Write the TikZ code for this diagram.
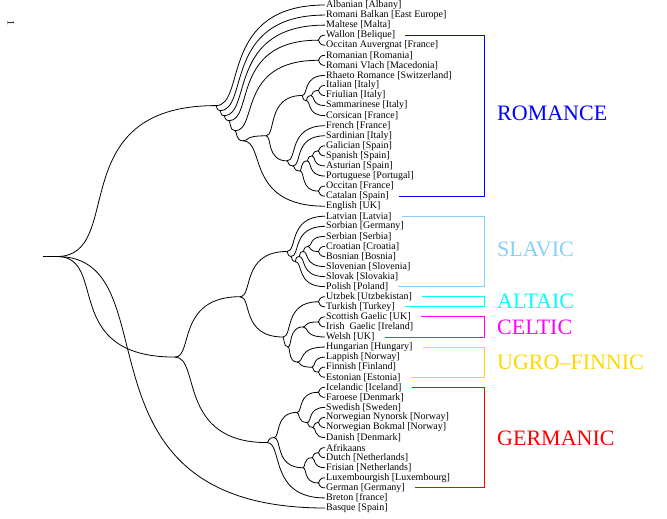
\documentclass[tikz,border=0pt]{standalone}
\usepackage{fontspec}
\setmainfont{Liberation Serif}
\usetikzlibrary{calc}
\definecolor{slavblue}{RGB}{135,206,250}
\definecolor{ugrogold}{RGB}{255,215,0}
\definecolor{altcyan}{RGB}{0,255,255}
\definecolor{celtmag}{RGB}{255,0,255}
\definecolor{rombl}{RGB}{0,0,255}
\definecolor{germred}{RGB}{255,0,0}
\begin{document}
\begin{tikzpicture}[x=1pt,y=-1pt,
  leaf/.style={anchor=west,inner sep=1pt,font=\fontsize{10}{10}\selectfont},
  edge/.style={line width=0.8pt,to path={.. controls ($(\tikztostart)!#1!(\tikztotarget|-\tikztostart)$) and ($(\tikztostart|-\tikztotarget)!0.02!(\tikztotarget)$) .. (\tikztotarget)}},
  edge/.default=0.28,
  grp/.style={anchor=west,inner sep=0pt,font=\fontsize{22}{22}\selectfont},
  brk/.style={line width=0.8pt}]
\useasboundingbox (0,0) rectangle (667,519);

\node[rotate=-90,inner sep=0pt,font=\fontsize{10}{10}\selectfont] (pagenum) at (11,23) {1};

\foreach \t [count=\i] in {
 {Albanian [Albany]},{Romani Balkan [East Europe]},{Maltese [Malta]},{Wallon [Belique]},
 {Occitan Auvergnat [France]},{Romanian [Romania]},{Romani Vlach [Macedonia]},
 {Rhaeto Romance [Switzerland]},{Italian [Italy]},{Friulian [Italy]},{Sammarinese [Italy]},
 {Corsican [France]},{French [France]},{Sardinian [Italy]},{Galician [Spain]},
 {Spanish [Spain]},{Asturian [Spain]},{Portuguese [Portugal]},{Occitan [France]},
 {Catalan [Spain]},{English [UK]},{Latvian [Latvia]},{Sorbian [Germany]},
 {Serbian [Serbia]},{Croatian [Croatia]},{Bosnian [Bosnia]},{Slovenian [Slovenia]},
 {Slovak [Slovakia]},{Polish [Poland]},{Utzbek [Utzbekistan]},{Turkish [Turkey]},
 {Scottish Gaelic [UK]},{Irish\ \ Gaelic [Ireland]},{Welsh [UK]},{Hungarian [Hungary]},
 {Lappish [Norway]},{Finnish [Finland]},{Estonian [Estonia]},{Icelandic [Iceland]},
 {Faroese [Denmark]},{Swedish [Sweden]},{Norwegian Nynorsk [Norway]},
 {Norwegian Bokmal [Norway]},{Danish [Denmark]},{Afrikaans},{Dutch [Netherlands]},
 {Frisian [Netherlands]},{Luxembourgish [Luxembourg]},{German [Germany]},
 {Breton [france]},{Basque [Spain]}}
 {\node[leaf] (l\i) at (325,{5+10.06*(\i-1)}) {\t};}

% internal nodes
\coordinate (rootL) at (43,256.5);
\coordinate (root) at (57,256.5);
\coordinate (R0) at (216,105.6);
\coordinate (R1) at (220,110.6);
\coordinate (R2) at (224,115.7);
\coordinate (R3) at (229,120.7);
\coordinate (P1) at (318,40.2);
\coordinate (R4) at (235,130.75);
\coordinate (P2) at (318,60.3);
\coordinate (R5) at (243,140.8);
\coordinate (W) at (266,135.8);
\coordinate (IG) at (302,95.5);
\coordinate (IFSC) at (306,100.6);
\coordinate (IFS) at (311,95.5);
\coordinate (IF) at (318,90.5);
\coordinate (IBF) at (287,160.9);
\coordinate (IBS) at (293,166);
\coordinate (IB) at (300,171);
\coordinate (GSAP) at (307,160.9);
\coordinate (GSA) at (312,155.9);
\coordinate (GS) at (318,150.9);
\coordinate (OC) at (318,191.1);
\coordinate (M1) at (175,357.1);
\coordinate (M2) at (240,296.7);
\coordinate (S0) at (287,251.5);
\coordinate (S1) at (291,256.5);
\coordinate (S2) at (295,261.5);
\coordinate (S3) at (299,256.5);
\coordinate (S4) at (303,251.5);
\coordinate (S5) at (308,246.4);
\coordinate (CB) at (318,251.5);
\coordinate (L0) at (283,337);
\coordinate (AT) at (318,301.8);
\coordinate (L1) at (288,347);
\coordinate (CE) at (303,326.9);
\coordinate (SI) at (318,321.9);
\coordinate (UF) at (297,362.1);
\coordinate (LFE) at (312,367.2);
\coordinate (FE) at (318,372.2);
\coordinate (G0) at (267,442.6);
\coordinate (G1) at (274,437.6);
\coordinate (Gn) at (297,412.4);
\coordinate (IFtwo) at (318,392.3);
\coordinate (SW) at (307,422.5);
\coordinate (NBD) at (313,427.5);
\coordinate (NB) at (318,422.5);
\coordinate (Gw) at (303,467.8);
\coordinate (ADF) at (312,457.7);
\coordinate (AD) at (318,452.7);
\coordinate (LG) at (318,482.9);

\draw[line width=0.8pt] (rootL) -- (root);
\foreach \a/\b in {root/R0, root/M1, root/l51.west}
 {\draw[edge=0.44] (\a) to (\b);}
\foreach \a/\b in {
 R0/l1.west, R0/R1, R1/l2.west, R1/R2, R2/l3.west, R2/R3, R3/P1, R3/R4,
 P1/l4.west, P1/l5.west, R4/P2, R4/R5, P2/l6.west, P2/l7.west, R5/W, R5/l21.west,
 W/IG, W/IBF, IG/l8.west, IG/IFSC, IFSC/IFS, IFSC/l12.west, IFS/IF, IFS/l11.west,
 IF/l9.west, IF/l10.west, IBF/l13.west, IBF/IBS, IBS/l14.west, IBS/IB, IB/GSAP, IB/OC,
 GSAP/GSA, GSAP/l18.west, GSA/GS, GSA/l17.west, GS/l15.west, GS/l16.west,
 OC/l19.west, OC/l20.west,
 M1/M2, M1/G0, M2/S0, M2/L0, S0/l22.west, S0/S1, S1/l23.west, S1/S2, S2/S3, S2/l29.west,
 S3/S4, S3/l28.west, S4/S5, S4/l27.west, S5/l24.west, S5/CB, CB/l25.west, CB/l26.west,
 L0/AT, L0/L1, AT/l30.west, AT/l31.west, L1/CE, L1/UF, CE/SI, CE/l34.west,
 SI/l32.west, SI/l33.west, UF/l35.west, UF/LFE, LFE/l36.west, LFE/FE, FE/l37.west, FE/l38.west,
 G0/G1, G0/l50.west, G1/Gn, G1/Gw, Gn/IFtwo, Gn/SW, IFtwo/l39.west, IFtwo/l40.west,
 SW/l41.west, SW/NBD, NBD/NB, NBD/l44.west, NB/l42.west, NB/l43.west,
 Gw/ADF, Gw/LG, ADF/AD, ADF/l47.west, AD/l45.west, AD/l46.west, LG/l48.west, LG/l49.west}
 {\draw[edge] (\a) to (\b);}

% brackets
\coordinate (bx) at (484,0);
\draw[brk,rombl] ($(l4.east)+(9,0)$) -- (l4.east -| bx) -- (l20.east -| bx) -- ($(l20.east)+(9,0)$);
\draw[brk,slavblue] ($(l22.east)+(9,0)$) -- (l22.east -| bx) -- (l29.east -| bx) -- ($(l29.east)+(9,0)$);
\draw[brk,altcyan] ($(l30.east)+(9,0)$) -- (l30.east -| bx) -- (l31.east -| bx) -- ($(l31.east)+(9,0)$);
\draw[brk,celtmag] ($(l32.east)+(9,0)$) -- (l32.east -| bx) -- (l34.east -| bx) -- ($(l34.east)+(9,0)$);
\draw[brk,ugrogold] ($(l35.east)+(9,0)$) -- (l35.east -| bx) -- (l38.east -| bx) -- ($(l38.east)+(9,0)$);
\draw[brk,germred] ($(l39.east)+(9,0)$) -- (l39.east -| bx) -- (l49.east -| bx) -- ($(l49.east)+(9,0)$);

% group labels
\node[grp,text=rombl] (romance) at (497,113) {ROMANCE};
\node[grp,text=slavblue] (slavic) at (497,249.5) {SLAVIC};
\node[grp,text=altcyan] (altaic) at (497,301.7) {ALTAIC};
\node[grp,text=celtmag] (celtic) at (497,327) {CELTIC};
\node[grp,text=ugrogold] (ugro) at (497,362) {UGRO–FINNIC};
\node[grp,text=germred] (germanic) at (497,438) {GERMANIC};
\end{tikzpicture}
\end{document}
